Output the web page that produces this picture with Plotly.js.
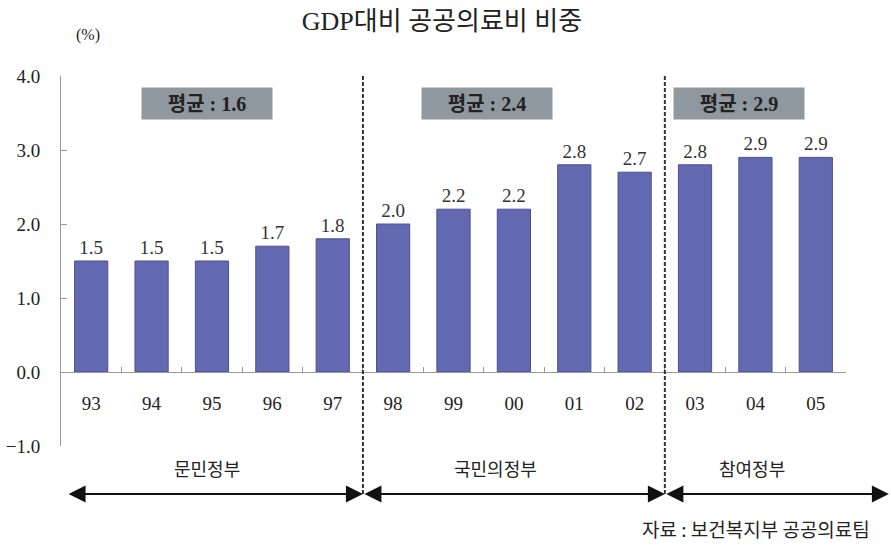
<!DOCTYPE html>
<html>
<head>
<meta charset="utf-8">
<script src="https://cdn.plot.ly/plotly-3.0.1.min.js"></script>
<style>html,body{margin:0;padding:0;background:#fff;}#chart{width:891px;height:551px;}</style>
</head>
<body>
<div id="chart"></div>
<script>
// Public health expenditure as a share of GDP, by year and administration
const years = ['93','94','95','96','97','98','99','00','01','02','03','04','05'];
const shares = [1.5, 1.5, 1.5, 1.7, 1.8, 2.0, 2.2, 2.2, 2.8, 2.7, 2.8, 2.9, 2.9];
const govNames = ['문민정부', '국민의정부', '참여정부'];
const govAverages = [1.6, 2.4, 2.9];
const yTicks = [-1, 0, 1, 2, 3, 4];

const SERIF = "'Liberation Serif', 'Noto Sans CJK KR', serif";
const SANS = "'Noto Sans CJK KR', sans-serif";

// administration spans in category units (0 = left edge of the axis)
const nCat = years.length;
const govSpans = [[0.1, 5], [5, 10], [10, 13.71]];
const govLabelX = [2.42, 7.19, 11.44];
const avgBoxX = [1.92, 6.55, 10.72];
const catToPaper = c => c / nCat;

const annotations = [];
govAverages.forEach((v, i) => {
  annotations.push({
    xref: 'x', yref: 'y', x: avgBoxX[i], y: 3.63,
    text: '<b>평균 : ' + v.toFixed(1) + '</b>',
    showarrow: false, bgcolor: '#8f989f', width: 128, height: 29,
    font: {family: SERIF, size: 20, color: '#222'}
  });
});
govNames.forEach((name, i) => {
  annotations.push({
    xref: 'paper', yref: 'paper', x: catToPaper(govLabelX[i]), y: -0.06,
    xanchor: 'center', yanchor: 'middle',
    text: name, showarrow: false,
    font: {family: SANS, size: 18, color: '#222'}
  });
  annotations.push({
    xref: 'paper', yref: 'paper', axref: 'paper', ayref: 'paper',
    x: catToPaper(govSpans[i][1]), y: -0.13,
    ax: catToPaper(govSpans[i][0]), ay: -0.13,
    text: '', showarrow: true, arrowside: 'end+start',
    arrowhead: 2, arrowsize: 1.7, arrowwidth: 2, arrowcolor: '#111',
    standoff: 0, startstandoff: 0
  });
});
annotations.push({
  xref: 'paper', yref: 'paper', x: 1.033, y: -0.222, xanchor: 'right', yanchor: 'middle',
  text: '자료 : 보건복지부 공공의료팀', showarrow: false,
  font: {family: SANS, size: 19, color: '#222'}
});
annotations.push({
  xref: 'paper', yref: 'paper', x: 0.016, y: 1.11, xanchor: 'left', yanchor: 'middle',
  text: '(%)', showarrow: false,
  font: {family: SERIF, size: 16, color: '#222'}
});

const shapes = [5, 10].map(b => ({
  type: 'line', xref: 'paper', yref: 'paper',
  x0: catToPaper(b), x1: catToPaper(b), y0: -0.13, y1: 1,
  line: {color: '#333', width: 2, dash: '4px,2px'}
}));

const trace = {
  type: 'bar', x: years, y: shares, width: 0.55,
  marker: {color: '#6369b0', line: {color: '#4c5192', width: 1}},
  texttemplate: '%{y:.1f}', textposition: 'outside', cliponaxis: false,
  textfont: {family: SERIF, size: 19, color: '#333'},
  hoverinfo: 'x+y'
};

const layout = {
  width: 891, height: 551,
  margin: {l: 61, r: 45, t: 76, b: 105},
  paper_bgcolor: '#fff', plot_bgcolor: '#fff',
  showlegend: false,
  title: {text: 'GDP대비 공공의료비 비중', x: 0.496, xanchor: 'center', y: 0.962, yanchor: 'middle',
          font: {family: SERIF, size: 26, color: '#222'}},
  xaxis: {
    type: 'category', anchor: 'free', position: 0.2,
    range: [-0.5, 12.5], fixedrange: true,
    showline: true, linecolor: '#999', linewidth: 1,
    ticks: 'inside', tickson: 'boundaries', ticklen: 5, tickcolor: '#999',
    showgrid: false, ticklabelstandoff: 14,
    tickfont: {family: SERIF, size: 19, color: '#222'}
  },
  yaxis: {
    range: [-1, 4], tickvals: yTicks,
    ticktext: yTicks.map(v => v.toFixed(1).replace('-', '\u2212')),
    showline: true, linecolor: '#999', linewidth: 1,
    ticks: 'inside', ticklen: 6, tickcolor: '#999',
    showgrid: false, zeroline: false, ticklabelstandoff: 16,
    tickfont: {family: SERIF, size: 19, color: '#222'}
  },
  annotations: annotations,
  shapes: shapes
};

Plotly.newPlot('chart', [trace], layout, {displayModeBar: false, staticPlot: true});
</script>
</body>
</html>
